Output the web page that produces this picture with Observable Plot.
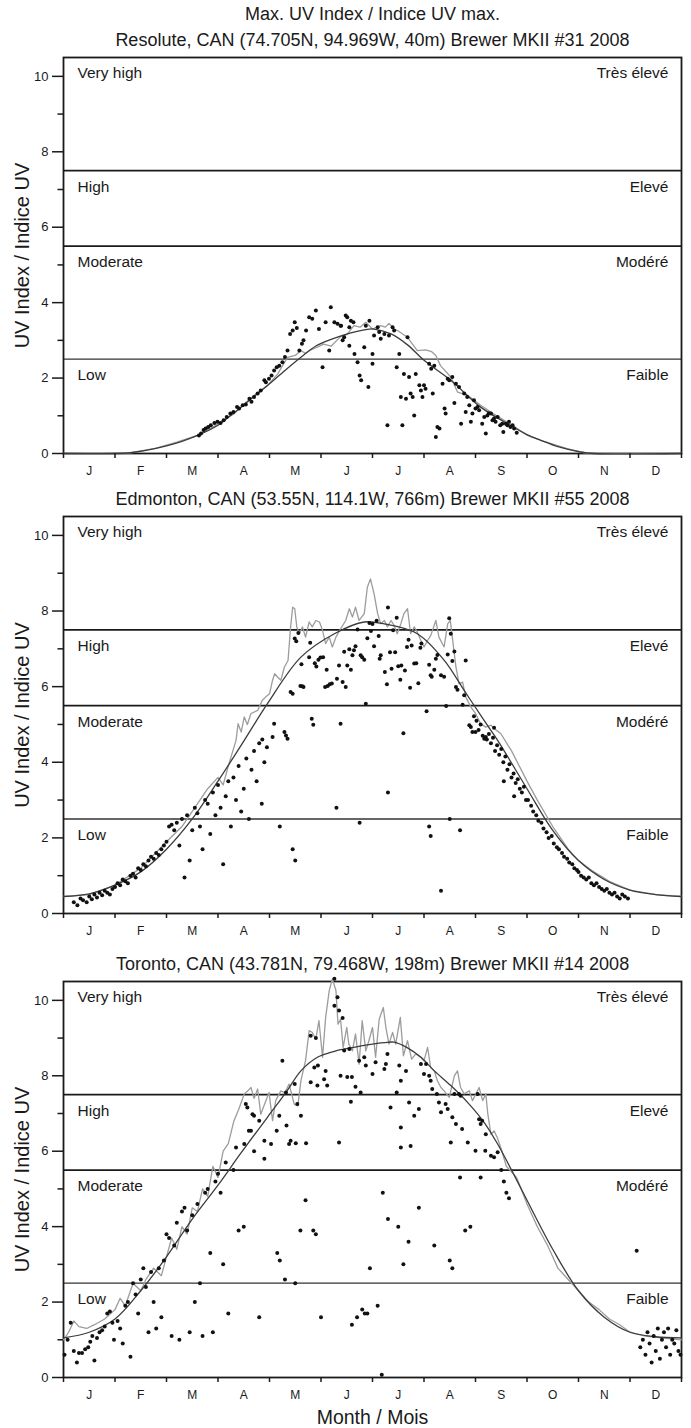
<!DOCTYPE html>
<html><head><meta charset="utf-8">
<script src="https://cdn.jsdelivr.net/npm/d3@7"></script>
<script src="https://cdn.jsdelivr.net/npm/@observablehq/plot@0.6"></script>
<style>
body{margin:0;background:#fff;}
svg{display:block;}
</style></head><body><div id="chart"></div><script>
// ---- labels ----
const chartTitle = "Max. UV Index / Indice UV max.";
const stations = [
  "Resolute, CAN (74.705N, 94.969W, 40m) Brewer MKII #31 2008",
  "Edmonton, CAN (53.55N, 114.1W, 766m) Brewer MKII #55 2008",
  "Toronto, CAN (43.781N, 79.468W, 198m) Brewer MKII #14 2008"
];
const months = ["J","F","M","A","M","J","J","A","S","O","N","D"];
const bandsLeft = ["Very high","High","Moderate","Low"];
const bandsRight = ["Très élevé","Elevé","Modéré","Faible"];
const bandTops = [10.5, 7.5, 5.5, 2.5];
const lowThreshold = [2.5];
const thresholds = [5.5, 7.5];
const yTicks = [0,2,4,6,8,10];
const yMinor = [1,3,5,7,9];
const yLabel = "UV Index / Indice UV";
const xLabel = "Month / Mois";

// ---- data: [month position (0 = 1 Jan, 12 = 31 Dec), UV index] ----
const resoluteDots = [[2.63,0.48],[2.67,0.53],[2.72,0.62],[2.76,0.66],[2.81,0.70],[2.86,0.75],[2.93,0.81],[2.99,0.84],[3.05,0.81],[3.11,0.88],[3.17,0.97],[3.24,1.06],[3.30,1.10],[3.37,1.23],[3.41,1.19],[3.48,1.28],[3.54,1.30],[3.61,1.45],[3.65,1.37],[3.70,1.50],[3.77,1.59],[3.83,1.67],[3.90,1.94],[3.93,1.89],[3.99,1.98],[4.04,2.07],[4.09,2.20],[4.14,2.29],[4.19,2.33],[4.25,2.42],[4.30,2.56],[4.35,2.73],[4.40,3.17],[4.45,3.26],[4.49,3.48],[4.53,3.33],[4.58,2.73],[4.63,2.91],[4.66,3.00],[4.71,3.26],[4.77,3.61],[4.83,3.57],[4.90,3.79],[4.96,3.30],[5.03,2.29],[5.09,3.48],[5.16,2.73],[5.19,3.88],[5.26,3.48],[5.32,3.44],[5.39,3.39],[5.45,3.08],[5.51,3.61],[5.55,2.86],
[5.38,3.39],[5.48,3.66],[5.55,3.35],[5.58,3.52],[5.63,3.48],[5.42,3.00],[5.65,2.64],[5.71,2.42],[5.75,2.07],[5.78,1.94],[5.84,2.82],[5.87,3.39],[5.92,1.76],[5.94,3.52],[6.00,2.64],[6.00,2.38],[6.03,3.13],[6.10,3.35],[6.13,3.22],[6.16,3.04],[6.23,3.17],[6.29,0.75],[6.32,3.13],[6.39,3.35],[6.42,3.26],[6.47,2.29],[6.52,2.64],[6.55,1.50],[6.58,0.75],[6.61,2.11],[6.65,1.45],[6.68,3.08],[6.71,2.03],[6.74,1.59],[6.78,1.50],[6.81,1.01],[6.84,2.11],[6.91,1.81],[6.94,1.67],[6.97,1.50],[7.00,1.81],[7.03,1.72],[7.10,2.38],[7.14,2.25],[7.17,1.59],[7.20,2.33],[7.23,0.44],[7.26,0.70],[7.30,0.66],[7.36,1.85],[7.40,1.19],[7.42,1.06],[7.46,1.98],[7.49,1.94],[7.55,2.03],[7.59,1.34],[7.62,1.85],[7.68,1.76],[7.72,0.79],[7.78,1.59],[7.81,1.10],[7.84,1.50],[7.88,1.28],[7.91,0.84],[7.94,1.06],[7.97,1.41],[8.00,1.19],[8.04,1.23],[8.07,1.15],[8.13,0.79],[8.17,0.97],[8.20,0.53],[8.23,1.01],[8.26,1.07],[8.30,1.06],[8.33,0.88],[8.36,0.93],[8.39,0.84],[8.43,0.97],[8.48,0.75],[8.52,0.79],[8.54,0.57],[8.59,0.79],[8.62,0.75],[8.65,0.84],[8.68,0.70],[8.72,0.75],[8.75,0.66],[8.80,0.55]];
const resoluteGrey = [[0,0],[1.2,0],[1.4,0.04],[1.8,0.14],[2.2,0.3],[2.6,0.48],[2.92,0.72],[3.1,0.88],[3.31,1.05],[3.5,1.3],[3.7,1.54],[3.96,1.8],[4.16,2.11],[4.35,2.55],[4.5,2.6],[4.61,2.73],[4.7,2.65],[4.8,2.75],[4.93,2.82],[5.05,2.9],[5.2,2.85],[5.38,3.1],[5.5,3.15],[5.64,3.39],[5.76,3.35],[5.87,3.48],[6.0,3.3],[6.16,3.39],[6.25,3.35],[6.32,3.45],[6.42,3.3],[6.5,3.25],[6.68,3.08],[6.87,2.73],[7.03,2.75],[7.15,2.7],[7.23,2.6],[7.32,2.33],[7.52,2.03],[7.65,1.63],[7.84,1.55],[8.1,1.28],[8.35,1.05],[8.62,0.83],[9.01,0.48],[9.27,0.35],[9.5,0.25],[9.78,0.13],[10.04,0.04],[10.2,0],[12,0]];
const resoluteDark = [[0,0],[1.0,0],[1.3,0.02],[1.6,0.08],[2.0,0.2],[2.3,0.32],[2.67,0.52],[3.0,0.75],[3.31,1.08],[3.6,1.4],[3.96,1.8],[4.3,2.2],[4.61,2.55],[4.9,2.85],[5.25,3.05],[5.58,3.2],[5.84,3.28],[6.03,3.3],[6.36,3.17],[6.68,2.88],[7.0,2.47],[7.52,1.94],[8.1,1.23],[8.62,0.79],[9.0,0.5],[9.27,0.35],[9.6,0.18],[10.04,0.04],[10.3,0],[12,0]];

const edmontonDots = [[0.2,0.3],[0.27,0.22],[0.33,0.4],[0.38,0.35],[0.45,0.3],[0.5,0.45],[0.55,0.38],[0.6,0.5],[0.65,0.42],[0.7,0.55],[0.75,0.48],[0.8,0.6],[0.85,0.55],[0.9,0.5],[0.95,0.65],[1.0,0.7],[1.05,0.8],[1.1,0.75],[1.15,0.9],[1.2,0.85],[1.25,0.8],[1.3,1.0],[1.35,1.05],[1.4,0.95],[1.45,1.2],[1.5,1.15],[1.55,1.3],[1.6,1.25],[1.65,1.4],[1.7,1.5],[1.75,1.45],[1.8,1.6],[1.85,1.55],[1.9,1.7],[1.95,1.8],
[2.0,1.9],[2.05,2.3],[2.1,2.35],[2.15,2.2],[2.2,2.4],[2.25,1.8],[2.3,2.5],[2.35,0.95],[2.4,2.6],[2.45,1.4],[2.5,2.2],[2.55,2.8],[2.6,2.65],[2.65,2.3],[2.7,1.7],[2.75,3.0],[2.8,2.9],[2.85,2.1],[2.9,3.2],[2.95,2.6],
[3.0,3.4],[3.05,2.8],[3.1,1.3],[3.15,3.1],[3.2,3.5],[3.25,2.3],[3.3,3.6],[3.35,3.0],[3.4,3.9],[3.45,2.7],[3.5,3.3],[3.55,4.1],[3.6,2.5],[3.65,3.8],[3.7,4.3],[3.75,3.5],[3.8,4.5],[3.85,2.9],[3.9,4.0],[3.95,4.4],
[3.86,4.6],[4.06,4.67],[4.09,5.02],[4.29,4.8],[4.32,4.71],[4.35,4.62],[4.41,5.86],[4.45,5.81],[4.6,6.02],[4.64,6.01],[4.82,5.15],[4.85,4.99],[5.38,5.02],[4.45,1.7],[4.5,1.4],[4.2,2.3],
[4.49,7.27],[4.52,7.2],[4.56,7.42],[4.62,6.59],[4.66,5.99],[4.77,6.78],[4.79,7.16],[4.88,6.62],[4.91,6.53],[4.95,6.71],[4.99,6.77],[5.04,6.78],[5.08,5.99],[5.13,6.02],[5.17,6.06],[5.21,6.08],[5.11,6.45],[5.31,6.21],[5.35,6.56],[5.42,6.12],[5.45,6.92],[5.48,5.99],[5.51,6.56],[5.55,6.99],[5.58,6.45],[5.61,6.83],[5.64,6.96],[5.67,7.07],[5.71,7.51],[5.77,6.83],[5.8,6.78],[5.84,6.71],[5.87,5.55],[5.9,7.28],[5.94,7.68],[5.97,7.47],[6.0,7.66],[6.03,7.07],[6.08,7.74],[6.12,7.34],[6.14,6.74],[6.16,6.83],[6.24,6.39],[6.28,6.06],[6.3,8.09],[6.34,6.91],[6.37,6.47],[6.4,7.49],[6.44,6.91],[6.47,7.82],[6.5,6.54],[6.54,6.18],[6.56,6.56],[6.6,4.77],[6.63,6.43],[6.67,7.05],[6.7,7.24],[6.73,5.97],[6.76,7.09],[6.81,6.61],[6.85,6.62],[6.89,6.09],[6.93,7.03],[6.95,7.14],[7.05,5.35],[7.1,6.58],[7.13,6.3],[7.15,6.26],[7.2,6.45],[7.23,6.74],[7.26,6.84],[7.33,6.3],[7.39,6.26],[7.43,5.49],[7.46,6.85],[7.49,7.81],[7.52,7.4],[7.55,6.68],[7.59,6.93],[7.62,5.99],[7.65,5.92],[7.75,5.52],[7.78,5.77],[7.81,6.69],[7.88,4.98],[7.91,4.93],[7.94,4.8],[7.97,5.22],[8.0,4.8],[8.36,4.91],[8.17,4.62],[8.2,4.67],
[5.3,2.8],[5.75,2.4],[6.3,3.2],[7.1,2.3],[7.13,2.05],[7.33,0.6],[7.5,2.5],[7.7,2.2],
[8.02,5.1],[8.06,4.85],[8.1,5.0],[8.14,4.7],[8.22,4.6],[8.26,4.75],[8.3,4.5],[8.34,4.65],[8.38,4.3],[8.42,4.45],[8.46,4.2],[8.5,4.35],[8.54,4.0],[8.55,3.5],[8.58,4.15],[8.62,3.8],[8.66,3.95],[8.7,3.6],[8.74,3.7],[8.75,3.1],[8.78,3.45],[8.82,3.55],[8.86,3.3],[8.9,3.2],[8.94,3.35],[8.98,3.0],
[9.02,3.0],[9.08,2.85],[9.12,2.7],[9.18,2.6],[9.22,2.45],[9.28,2.4],[9.32,2.25],[9.38,2.15],[9.42,2.0],[9.48,2.05],[9.52,1.85],[9.58,1.75],[9.62,1.7],[9.68,1.6],[9.72,1.5],[9.78,1.45],[9.82,1.35],[9.88,1.3],[9.92,1.2],[9.97,1.15],
[10.0,1.1],[10.05,1.0],[10.1,0.95],[10.15,0.9],[10.2,0.95],[10.25,0.8],[10.3,0.75],[10.35,0.8],[10.4,0.7],[10.45,0.65],[10.5,0.6],[10.55,0.65],[10.6,0.55],[10.65,0.5],[10.7,0.55],[10.75,0.45],[10.8,0.4],[10.85,0.5],[10.9,0.45],[10.96,0.4]];
const edmontonGrey = [[0,0.45],[0.5,0.5],[1,0.75],[1.5,1.2],[2,1.9],[2.3,2.3],[2.6,2.9],[2.8,3.3],[3.0,3.6],[3.1,3.4],[3.2,3.9],[3.35,4.58],[3.39,5.02],[3.45,4.8],[3.51,5.2],[3.57,5.0],[3.64,5.29],[3.77,5.37],[3.86,5.64],[3.93,5.73],[4.0,5.81],[4.06,6.17],[4.1,6.34],[4.16,6.25],[4.22,6.17],[4.29,6.52],[4.36,6.69],[4.41,7.58],[4.45,8.1],[4.49,8.06],[4.53,7.58],[4.58,7.4],[4.64,7.58],[4.7,7.31],[4.77,7.71],[4.83,7.58],[4.9,7.75],[4.97,7.71],[5.03,7.49],[5.09,7.14],[5.16,7.31],[5.22,7.05],[5.29,7.31],[5.38,7.53],[5.48,7.75],[5.55,8.06],[5.61,7.84],[5.67,8.1],[5.74,7.75],[5.84,7.93],[5.9,8.63],[5.96,8.85],[6.03,8.46],[6.1,7.93],[6.16,7.66],[6.23,7.75],[6.29,7.58],[6.36,7.75],[6.42,7.62],[6.48,7.4],[6.55,7.66],[6.61,7.93],[6.68,8.06],[6.74,7.4],[6.81,7.58],[6.87,7.44],[6.94,7.22],[7.0,7.05],[7.07,7.22],[7.13,7.35],[7.23,7.75],[7.29,7.31],[7.39,7.05],[7.46,7.66],[7.51,7.75],[7.55,7.31],[7.62,6.52],[7.68,6.08],[7.75,6.12],[7.81,5.73],[7.91,5.46],[8.0,5.29],[8.1,5.02],[8.2,4.93],[8.3,4.98],[8.4,4.85],[8.49,4.76],[8.7,4.3],[9.0,3.5],[9.2,3.0],[9.5,2.3],[9.8,1.7],[10,1.4],[10.3,1.1],[10.6,0.85],[11,0.62],[11.5,0.5],[12,0.45]];
const edmontonDark = [[0,0.45],[0.5,0.52],[1,0.75],[1.5,1.1],[2,1.7],[2.5,2.5],[3.0,3.5],[3.51,4.58],[3.96,5.55],[4.61,6.78],[5.26,7.4],[5.84,7.71],[6.23,7.66],[6.87,7.4],[7.39,6.7],[7.78,5.9],[8.17,5.1],[8.43,4.58],[9.0,3.3],[9.5,2.2],[10,1.4],[10.5,0.9],[11,0.62],[11.5,0.5],[12,0.45]];

const torontoDots = [[0.02,0.6],[0.08,1.0],[0.14,1.45],[0.2,0.7],[0.26,0.4],[0.3,0.65],[0.36,0.65],[0.42,0.75],[0.48,0.8],[0.52,0.95],[0.56,1.1],[0.6,0.45],[0.65,1.05],[0.7,1.2],[0.75,1.25],[0.8,1.35],[0.85,1.7],[0.9,1.75],[0.95,1.45],[0.98,1.0],
[1.05,1.5],[1.1,1.3],[1.15,0.9],[1.2,1.9],[1.25,2.0],[1.3,0.55],[1.35,2.5],[1.4,2.2],[1.45,1.7],[1.5,2.6],[1.55,2.9],[1.6,2.4],[1.65,1.2],[1.7,2.8],[1.75,2.0],[1.8,1.3],[1.85,2.9],[1.9,1.6],[1.95,3.1],
[2.0,3.8],[2.05,3.7],[2.1,1.1],[2.15,3.5],[2.2,4.1],[2.25,1.0],[2.3,4.4],[2.35,4.5],[2.4,3.9],[2.45,1.2],[2.5,4.3],[2.55,2.0],[2.6,4.6],[2.65,2.5],[2.7,1.1],[2.75,4.9],[2.8,5.0],[2.85,3.3],[2.9,1.2],[2.95,5.2],
[3.0,5.4],[3.05,4.9],[3.1,3.0],[3.15,5.7],[3.2,1.7],[3.3,5.5],[3.4,3.9],[3.5,4.0],[3.7,6.0],[3.8,1.6],[3.9,5.8],
[3.54,7.25],[3.57,7.16],[3.67,6.98],[3.7,6.94],[3.8,6.81],[3.6,6.54],[3.64,6.54],[3.9,6.28],[3.51,6.19],[3.35,6.1],[4.25,8.4],[4.32,7.56],[4.41,6.28],[4.49,7.78],[4.54,7.25],[4.61,6.94],[4.19,6.94],[4.14,6.54],[4.33,6.68],[4.38,6.19],[4.8,9.06],[4.9,9.0],[4.87,8.22],[4.94,8.27],[4.8,7.83],[4.93,7.74],[5.06,7.91],[5.12,7.74],[5.09,8.13],[5.26,10.57],[5.32,10.08],[5.26,9.86],[5.35,9.73],[5.42,9.53],[5.45,8.67],[5.55,8.71],[5.38,8.0],[5.51,7.97],[5.6,7.97],[5.67,7.71],[5.77,7.56],[5.58,7.31],[5.74,8.4],[5.84,8.49],[5.87,8.27],[6.0,8.05],[6.06,8.36],[6.23,8.18],[6.26,8.31],[6.29,8.58],[6.35,7.16],[6.47,7.56],[6.52,8.27],[6.55,7.87],[6.65,8.13],[6.55,6.63],[6.71,7.29],[6.81,6.94],[6.9,7.12],[6.94,8.31],[7.0,8.05],[7.04,8.31],[7.1,8.0],[7.13,7.87],[7.16,7.65],[7.25,7.52],[7.29,7.29],[7.33,7.03],[7.42,7.25],[7.46,7.12],[7.55,6.9],[7.59,7.52],[7.62,6.72],[7.68,7.52],[7.71,7.47],[7.74,6.59],[7.85,6.23],[8.04,7.52],[8.07,6.85],[8.1,6.72],[8.13,6.81],[8.2,6.45],[8.0,6.01],[8.19,6.01],[8.3,5.88],[8.36,5.84],[8.43,5.97],[4.03,6.19],[4.51,6.21],[4.71,6.21],[5.35,6.23],[6.55,6.1],[6.74,6.14],[7.52,6.23],
[4.15,3.3],[4.2,3.1],[4.3,2.6],[4.5,2.5],[4.6,3.9],[4.7,4.7],[4.85,3.9],[4.9,3.8],[5.0,1.6],[5.6,1.4],[5.7,1.6],[5.8,1.8],[5.85,1.7],[5.9,1.7],[6.1,1.9],[5.95,2.9],[6.18,0.07],[6.2,4.9],[6.3,4.2],[6.5,4.0],[6.6,3.0],[6.7,3.6],[6.9,4.5],[7.2,3.5],[7.5,3.1],[7.55,2.9],[7.7,5.3],[7.8,3.9],[7.9,4.0],[8.1,5.3],
[8.5,5.5],[8.55,5.2],[8.6,4.9],[8.65,4.75],
[11.13,3.36],[11.2,0.8],[11.25,1.0],[11.3,0.6],[11.34,1.2],[11.38,0.9],[11.42,0.4],[11.46,1.1],[11.5,0.7],[11.54,1.3],[11.58,0.5],[11.62,1.0],[11.66,1.2],[11.7,0.8],[11.74,1.3],[11.78,0.6],[11.82,1.0],[11.86,0.9],[11.9,1.25],[11.94,0.7],[11.98,0.6]];
const torontoGrey = [[0,1.0],[0.1,1.2],[0.2,1.5],[0.3,1.35],[0.45,1.3],[0.6,1.4],[0.8,1.55],[1.0,1.8],[1.1,2.1],[1.2,1.9],[1.35,2.5],[1.5,2.3],[1.6,2.6],[1.75,2.9],[1.9,2.7],[2.0,3.2],[2.1,3.7],[2.2,3.4],[2.3,4.0],[2.4,3.8],[2.5,4.5],[2.6,4.4],[2.7,5.0],[2.8,4.8],[2.9,5.6],[3.0,5.3],[3.1,6.0],[3.2,6.2],[3.31,6.81],[3.4,7.1],[3.51,7.52],[3.58,7.6],[3.64,7.69],[3.7,7.4],[3.77,7.65],[3.83,6.98],[3.93,7.34],[3.99,7.56],[4.06,6.81],[4.12,7.34],[4.22,7.6],[4.3,7.55],[4.38,7.78],[4.48,7.25],[4.55,7.2],[4.61,7.87],[4.7,8.4],[4.77,9.2],[4.83,9.15],[4.9,8.97],[4.96,9.46],[5.03,8.49],[5.09,9.55],[5.16,10.26],[5.22,10.57],[5.29,10.26],[5.33,9.37],[5.38,9.5],[5.43,8.75],[5.5,9.28],[5.54,8.84],[5.61,8.66],[5.67,9.11],[5.74,8.31],[5.8,9.46],[5.87,8.66],[5.93,8.93],[6.0,9.28],[6.06,8.49],[6.13,9.5],[6.21,9.81],[6.26,9.28],[6.32,8.84],[6.39,9.15],[6.45,8.84],[6.54,9.55],[6.6,8.53],[6.68,8.93],[6.76,8.44],[6.84,8.58],[6.94,8.49],[7.0,8.4],[7.07,8.75],[7.13,8.22],[7.2,8.13],[7.26,7.87],[7.33,7.69],[7.39,7.6],[7.49,7.43],[7.59,8.0],[7.65,8.13],[7.71,7.69],[7.78,7.52],[7.88,7.6],[7.94,7.34],[8.01,7.52],[8.07,7.69],[8.14,7.34],[8.2,7.52],[8.24,6.98],[8.3,6.45],[8.36,6.54],[8.42,6.37],[8.49,6.1],[8.6,5.6],[8.8,5.3],[9.0,4.6],[9.2,4.0],[9.4,3.5],[9.6,2.9],[9.8,2.6],[10.0,2.3],[10.2,2.0],[10.4,1.8],[10.6,1.55],[10.8,1.4],[11,1.2],[11.3,1.1],[11.6,1.05],[12,1.0]];
const torontoDark = [[0,1.05],[0.5,1.2],[1.0,1.55],[1.5,2.3],[2.0,3.2],[2.5,4.2],[3.0,5.1],[3.44,5.94],[3.96,6.9],[4.32,7.56],[4.61,8.13],[4.93,8.49],[5.26,8.65],[5.58,8.74],[5.9,8.82],[6.23,8.88],[6.42,8.89],[6.68,8.74],[6.94,8.49],[7.2,8.13],[7.52,7.74],[7.85,7.29],[8.17,6.76],[8.43,6.19],[8.7,5.5],[9.0,4.7],[9.5,3.4],[10.0,2.3],[10.5,1.6],[11,1.2],[11.5,1.08],[12,1.05]];

// ---- drawing ----
const FONT = '"Liberation Sans", Arial, sans-serif';
const INK = "#1a1a1a";
const px = d => d[0], py = d => d[1];

function panel({station, dots, grey, dark, height, marginTop, marginBottom, first, last}) {
  const marks = [
    Plot.ruleY(lowThreshold, {stroke: "#333", strokeWidth: 1.3}),
    Plot.ruleY(thresholds, {stroke: INK, strokeWidth: 1.8}),
    Plot.frame({stroke: INK, strokeWidth: 1.8}),
    Plot.line(grey, {x: px, y: py, stroke: "#9c9c9c", strokeWidth: 1.3}),
    Plot.line(dark, {x: px, y: py, stroke: "#3c3c3c", strokeWidth: 1.3, curve: "catmull-rom"}),
    Plot.dot(dots, {x: px, y: py, r: 2, fill: "#111", stroke: null}),
    Plot.axisY({ticks: yTicks, tickSize: 11, tickPadding: 4, fontSize: 13, strokeWidth: 1.5, label: null, stroke: INK, fill: INK}),
    Plot.axisY({ticks: yMinor, tickSize: 5.5, tickFormat: () => "", strokeWidth: 1.5, label: null, stroke: INK}),
    Plot.axisX({ticks: d3.range(0, 13), tickSize: 5, tickFormat: () => "", strokeWidth: 1.5, label: null, stroke: INK}),
    Plot.text(months, {x: (d, i) => i + 0.5, y: () => 0, dy: 18, fontSize: 12, fill: INK, lineAnchor: "middle"}),
    Plot.text(bandsLeft, {x: () => 0, y: (d, i) => bandTops[i], dx: 14, dy: 16, textAnchor: "start", lineAnchor: "middle", fontSize: 15.5, fill: INK}),
    Plot.text(bandsRight, {x: () => 12, y: (d, i) => bandTops[i], dx: -13, dy: 16, textAnchor: "end", lineAnchor: "middle", fontSize: 15.5, fill: INK}),
    Plot.text([station], {frameAnchor: "top", dy: -17, fontSize: 18, fill: INK, textAnchor: "middle", lineAnchor: "middle"}),
    Plot.text([yLabel], {frameAnchor: "left", dx: -41, rotate: -90, fontSize: 20, fill: INK, textAnchor: "middle", lineAnchor: "middle"})
  ];
  if (first) marks.push(Plot.text([chartTitle], {frameAnchor: "top", dy: -43, fontSize: 18, fill: INK, textAnchor: "middle", lineAnchor: "middle"}));
  if (last) marks.push(Plot.text([xLabel], {frameAnchor: "bottom", dy: 40, fontSize: 19.5, fill: INK, textAnchor: "middle", lineAnchor: "middle"}));
  return Plot.plot({
    width: 691, height, marginLeft: 63, marginRight: 10, marginTop, marginBottom,
    style: {fontFamily: FONT, background: "#fff", color: INK},
    x: {domain: [0, 12]},
    y: {domain: [0, 10.5]},
    marks
  });
}

const root = document.getElementById("chart");
root.append(panel({station: stations[0], dots: resoluteDots, grey: resoluteGrey, dark: resoluteDark, height: 483, marginTop: 57, marginBottom: 30, first: true}));
root.append(panel({station: stations[1], dots: edmontonDots, grey: edmontonGrey, dark: edmontonDark, height: 465, marginTop: 33, marginBottom: 35}));
root.append(panel({station: stations[2], dots: torontoDots, grey: torontoGrey, dark: torontoDark, height: 480, marginTop: 33, marginBottom: 51, last: true}));
</script></body></html>
